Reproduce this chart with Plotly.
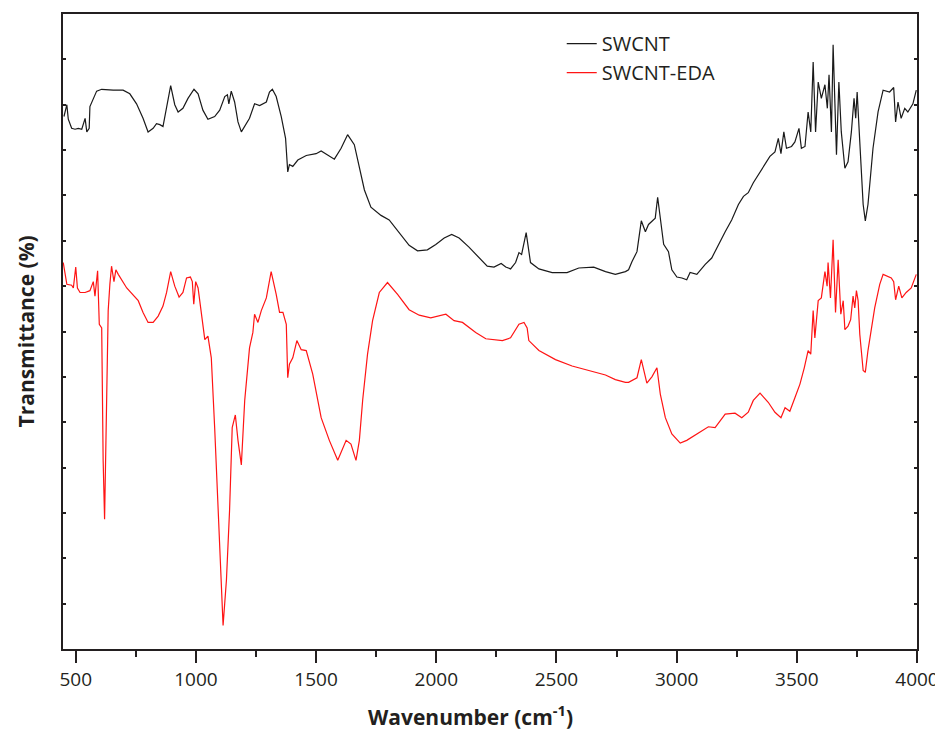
import plotly.graph_objects as go

# ---- data ----
swcnt_wn = [451, 463, 469, 483, 497, 511, 525, 539, 546, 556, 559, 587, 608, 656, 697, 725, 753, 780, 801, 822,
            836, 850, 863, 878, 895, 912, 926, 946, 967, 992, 1009, 1029, 1050, 1078, 1099, 1120, 1131, 1137, 1147, 1161,
            1175, 1189, 1203, 1223, 1244, 1265, 1293, 1306, 1318, 1334, 1355, 1373, 1382, 1389, 1403, 1424, 1459, 1500, 1521, 1548,
            1576, 1604, 1631, 1659, 1680, 1701, 1728, 1770, 1804, 1846, 1887, 1922, 1963, 1998, 2033, 2064, 2095, 2136, 2178, 2212,
            2240, 2270, 2289, 2309, 2330, 2344, 2355, 2374, 2392, 2427, 2482, 2544, 2593, 2655, 2704, 2745, 2787, 2800, 2814, 2821,
            2835, 2853, 2870, 2883, 2911, 2921, 2932, 2946, 2966, 2980, 3001, 3022, 3042, 3056, 3084, 3119, 3146, 3174, 3202, 3229,
            3257, 3278, 3298, 3319, 3340, 3361, 3388, 3409, 3423, 3434, 3446, 3457, 3478, 3492, 3509, 3519, 3534, 3547, 3558, 3568,
            3578, 3589, 3602, 3617, 3627, 3634, 3644, 3651, 3665, 3675, 3685, 3700, 3713, 3727, 3738, 3745, 3751, 3762, 3776, 3785,
            3796, 3817, 3838, 3859, 3886, 3903, 3911, 3921, 3934, 3949, 3962, 3983, 3997]
swcnt_t = [58.7, 60.0, 58.4, 57.4, 57.3, 57.4, 57.3, 58.5, 57.0, 57.4, 59.8, 61.5, 61.7, 61.6, 61.6, 61.2, 60.1, 58.5, 57.0, 57.4,
           57.9, 57.8, 57.6, 59.6, 62.1, 60.0, 59.2, 59.6, 60.7, 61.7, 61.2, 59.4, 58.4, 58.7, 59.4, 60.9, 61.1, 60.1, 61.5, 60.3,
           58.1, 57.0, 57.6, 58.5, 60.1, 59.9, 60.3, 61.4, 61.7, 60.9, 58.7, 56.3, 52.6, 53.4, 53.2, 53.9, 54.4, 54.6, 54.9, 54.5,
           54.0, 55.2, 56.7, 55.6, 53.0, 50.6, 48.7, 47.8, 47.3, 45.9, 44.5, 43.9, 44.0, 44.6, 45.3, 45.7, 45.3, 44.3, 43.1, 42.2,
           42.1, 42.5, 42.1, 41.9, 42.6, 43.7, 43.5, 45.9, 42.6, 41.9, 41.5, 41.5, 42.0, 42.1, 41.6, 41.3, 41.6, 41.8, 42.7, 43.1,
           43.8, 47.2, 46.0, 46.8, 47.5, 49.8, 47.5, 44.6, 43.8, 41.8, 41.0, 40.9, 40.7, 41.5, 41.3, 42.4, 43.1, 44.6, 46.0, 47.3,
           49.0, 49.9, 50.3, 51.4, 52.3, 53.2, 54.3, 54.8, 56.3, 54.6, 57.0, 55.2, 55.4, 55.9, 57.4, 55.2, 55.4, 59.2, 57.0, 64.7,
           57.0, 62.5, 60.7, 62.2, 59.6, 63.3, 57.0, 66.6, 54.5, 62.5, 57.0, 53.0, 53.7, 57.0, 60.7, 58.5, 61.4, 55.9, 49.0, 47.2,
           49.0, 55.2, 59.2, 61.6, 61.4, 61.9, 58.1, 60.3, 58.5, 59.6, 59.2, 60.1, 61.6]

eda_wn = [448, 463, 483, 490, 500, 507, 518, 539, 559, 573, 580, 591, 598, 608, 614, 620, 629, 635, 642, 649,
          659, 667, 677, 712, 760, 780, 801, 822, 843, 863, 878, 895, 912, 930, 946, 961, 977, 985, 991, 999,
          1009, 1023, 1037, 1050, 1064, 1078, 1092, 1103, 1113, 1127, 1140, 1151, 1164, 1175, 1189, 1203, 1223, 1237, 1244, 1258,
          1272, 1293, 1313, 1334, 1348, 1362, 1376, 1382, 1389, 1403, 1420, 1438, 1459, 1486, 1521, 1555, 1590, 1625, 1645, 1666,
          1680, 1694, 1714, 1735, 1763, 1797, 1839, 1887, 1929, 1977, 2040, 2074, 2109, 2164, 2206, 2275, 2309, 2344, 2365, 2378,
          2385, 2427, 2496, 2565, 2634, 2704, 2745, 2787, 2800, 2835, 2853, 2876, 2897, 2918, 2932, 2953, 2980, 3015, 3042, 3077,
          3132, 3160, 3202, 3243, 3271, 3298, 3319, 3347, 3381, 3409, 3434, 3451, 3471, 3492, 3513, 3531, 3547, 3558, 3568, 3575,
          3589, 3602, 3617, 3626, 3630, 3640, 3651, 3661, 3672, 3683, 3693, 3700, 3713, 3724, 3734, 3741, 3748, 3755, 3762, 3776,
          3785, 3796, 3824, 3845, 3859, 3893, 3903, 3911, 3924, 3937, 3955, 3976, 3997]
eda_t = [42.6, 40.2, 40.1, 39.8, 42.1, 39.8, 39.3, 39.3, 39.5, 40.5, 38.9, 41.7, 35.8, 35.4, 20.8, 14.3, 28.1, 37.3, 40.2, 42.2,
         40.5, 41.8, 41.3, 39.8, 38.4, 37.1, 36.0, 36.0, 36.7, 37.8, 39.3, 41.6, 40.0, 38.8, 39.3, 40.9, 41.0, 40.5, 38.0, 40.5,
         39.8, 36.7, 34.1, 34.5, 32.1, 24.4, 15.3, 7.9, 2.6, 7.6, 15.3, 24.4, 25.8, 23.0, 20.3, 27.4, 33.2, 34.9, 36.9, 36.0,
         37.3, 38.7, 41.6, 39.1, 37.1, 37.1, 35.8, 29.9, 31.4, 32.1, 34.0, 33.0, 32.9, 30.3, 25.5, 23.0, 20.8, 23.0, 22.6, 20.8,
         23.0, 27.5, 32.5, 36.2, 39.3, 40.4, 39.1, 37.4, 36.8, 36.5, 36.9, 36.2, 36.0, 34.9, 34.2, 34.0, 34.3, 35.8, 36.0, 35.4,
         34.0, 32.9, 31.9, 31.2, 30.7, 30.2, 29.7, 29.4, 29.4, 29.9, 31.9, 29.3, 30.0, 31.0, 28.1, 25.5, 23.7, 22.7, 23.0, 23.6,
         24.5, 24.4, 25.9, 26.0, 25.5, 26.1, 27.4, 28.2, 27.2, 26.1, 25.5, 26.6, 26.2, 27.7, 29.2, 31.0, 32.9, 32.5, 37.3, 34.3,
         38.4, 38.7, 41.6, 40.0, 42.6, 38.7, 45.1, 37.1, 42.9, 36.9, 38.4, 35.2, 35.6, 36.3, 38.9, 37.6, 39.5, 38.4, 34.7, 30.7,
         30.5, 32.9, 37.6, 40.2, 41.3, 40.9, 40.5, 38.5, 40.0, 38.7, 39.3, 39.8, 41.3]

x_ticks = [500, 1000, 1500, 2000, 2500, 3000, 3500, 4000]
series_names = ["SWCNT", "SWCNT-EDA"]

FONT = "Open Sans"
AXC = "#231f20"

fig = go.Figure()
fig.add_trace(go.Scatter(x=swcnt_wn, y=swcnt_t, mode="lines", name=series_names[0],
                         line=dict(color="#1a1a1a", width=1.2)))
fig.add_trace(go.Scatter(x=eda_wn, y=eda_t, mode="lines", name=series_names[1],
                         line=dict(color="#ff1414", width=1.2)))

# the page body has an 8px default margin, so the figure is drawn 8px smaller
fig.update_layout(
    width=935, height=723,
    margin=dict(l=55, r=24, t=4, b=82),
    paper_bgcolor="white", plot_bgcolor="white",
    font=dict(family=FONT, size=19, color=AXC),
    showlegend=True,
    legend=dict(x=0.584, y=0.984, xanchor="left", yanchor="top",
                bgcolor="rgba(0,0,0,0)", font=dict(family=FONT, size=20, color=AXC)),
    xaxis=dict(range=[447, 4000], tickvals=x_ticks, ticks="outside", ticklen=12, tickwidth=2,
               tickcolor=AXC, showline=True, linewidth=2, linecolor=AXC, mirror=True,
               showgrid=False, zeroline=False,
               minor=dict(dtick=250, tick0=0, ticks="outside", ticklen=6, tickwidth=2, tickcolor=AXC),
               tickfont=dict(family=FONT, size=19, color=AXC)),
    yaxis=dict(range=[0, 70], dtick=5, tick0=0, ticks="inside", ticklen=3, tickwidth=2,
               tickcolor=AXC, showline=True, linewidth=2, linecolor=AXC, mirror="ticks",
               showgrid=False, zeroline=False, showticklabels=False),
    annotations=[
        dict(text="<b>Wavenumber (cm<sup>-1</sup>)</b>", xref="paper", yref="paper",
             x=0.477, y=0, yshift=-66, xanchor="center", yanchor="middle", showarrow=False,
             font=dict(family=FONT, size=21, color=AXC)),
        dict(text="<b>Transmittance (%)</b>", xref="paper", yref="paper",
             x=0, xshift=-38, y=0.5, xanchor="center", yanchor="middle", textangle=-90,
             showarrow=False, font=dict(family=FONT, size=21, color=AXC)),
    ],
)

fig.write_html("out.html")
